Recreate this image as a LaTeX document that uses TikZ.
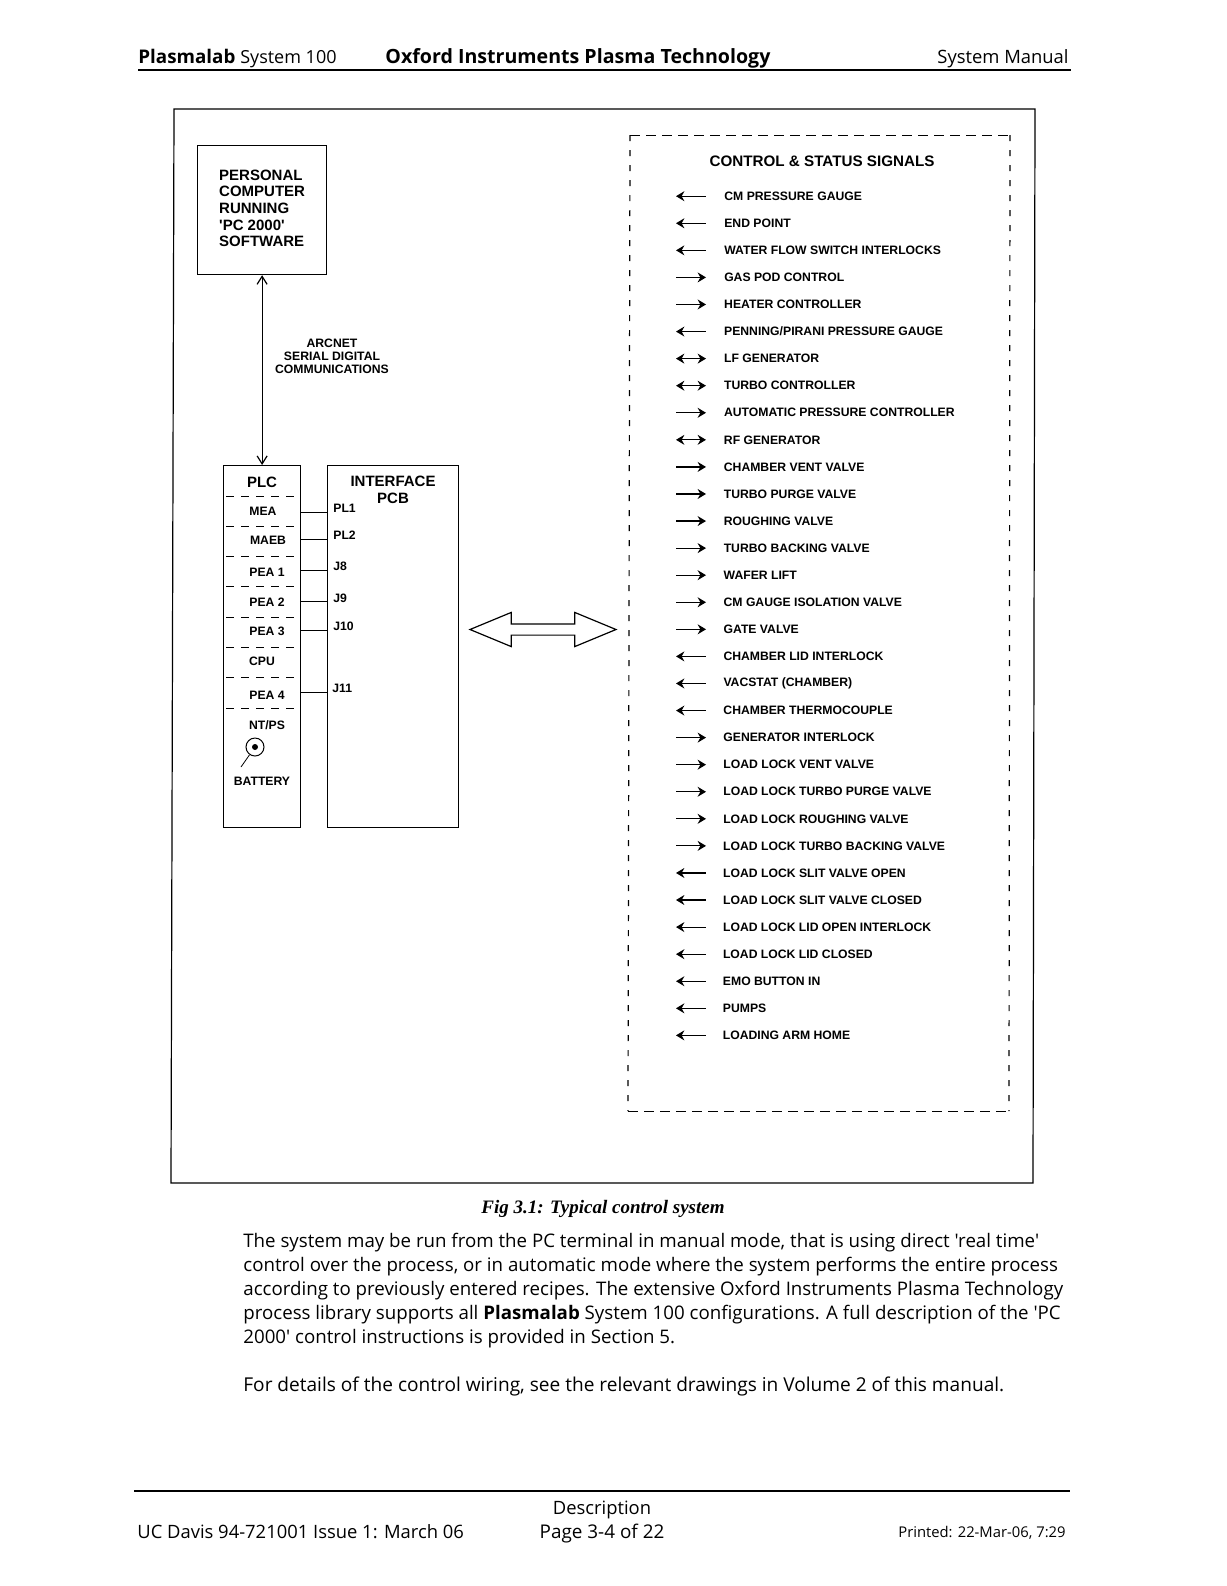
\documentclass[tikz,border=0pt]{standalone}
\usepackage{fontspec}
\usepackage{tikz}
\usetikzlibrary{calc, arrows.meta, shapes.arrows}
\setmainfont{Liberation Sans}
\newfontfamily\manualfont{Open Sans}
\newfontfamily\captionfont{Liberation Serif}
\tikzset{
    boxed/.style={draw, line width=0.6pt, inner sep=0pt, anchor=north west},
    titletext/.style={font=\fontsize{7.5}{8.35}\selectfont\bfseries, inner sep=0pt, align=center},
    smalltext/.style={font=\fontsize{6.1}{6.6}\selectfont\bfseries, inner sep=0pt, align=center},
    pagetext/.style={font=\manualfont\fontsize{9.2}{12}\selectfont, inner sep=0pt, anchor=base west},
    plcdash/.style={line width=0.5pt, dash pattern=on 4pt off 3.5pt},
    link/.style={line width=0.5pt},
    sigtip/.tip={Stealth[length=4.2pt, width=5pt, inset=1.4pt]},
    sigin/.style={line width=0.6pt, sigtip-},
    sigout/.style={line width=0.6pt, -sigtip},
    sigboth/.style={line width=0.6pt, sigtip-sigtip},
}
\begin{document}
\begin{tikzpicture}[x=0.5pt, y=-0.5pt]
    \useasboundingbox (0,0) rectangle (1227,1586);

    % Page header
    \node[pagetext] (headleft) at (138,63) {\fontsize{9.4}{12}\selectfont\textbf{Plasmalab} \fontsize{9}{12}\selectfont System 100};
    \node[pagetext, font=\manualfont\fontsize{9.8}{12}\selectfont\bfseries] (headmid) at (385,63) {Oxford Instruments Plasma Technology};
    \node[pagetext, anchor=base east] (headright) at (1069,63) {System Manual};
    \coordinate (headruleA) at (138,70);
    \coordinate (headruleB) at (1071,70);
    \draw[line width=1.4pt] (headruleA) -- (headruleB);

    % Figure frame
    \draw[line width=0.6pt] (174,109) -- (1035,109) -- (1033,1183) -- (171,1183) -- cycle;

    % PC and link to PLC
    \node[boxed, minimum size=64.5pt, titletext] (pc) at (197,145)
        {\begin{tabular}{@{}l@{}}PERSONAL\\COMPUTER\\RUNNING\\\textquotesingle PC 2000\textquotesingle\\SOFTWARE\end{tabular}};
    \node[boxed, minimum width=38.5pt, minimum height=181pt] (plc) at (223,465) {};
    \node[boxed, minimum width=65.5pt, minimum height=181pt] (iface) at (327,465) {};
    \draw[line width=0.6pt, {Straight Barb[length=4pt, width=5pt]}-{Straight Barb[length=4pt, width=5pt]}] (pc) -- (plc);
    \node[smalltext] (arcnet) at (332,356) {ARCNET\\SERIAL DIGITAL\\COMMUNICATIONS};

    % PLC slots
    \node[titletext] (plctitle) at (262,482) {PLC};
    \foreach \y in {496, 526, 556, 586, 617, 647, 677, 708} {
        \draw[plcdash] (226,\y) -- (297,\y);
    }
    \foreach \nm/\x/\y in {MEA/263/511, MAEB/268/540, PEA 1/267/572, PEA 2/267/602, PEA 3/267/631, CPU/262/661, PEA 4/267/695, NT\slash PS/267/725, BATTERY/262/781} {
        \node[smalltext] at (\x,\y) {\nm};
    }

    % Battery symbol
    \node[draw, circle, line width=0.5pt, minimum size=9pt, inner sep=0pt] (batt) at (255,747) {};
    \node[circle, fill, minimum size=3pt, inner sep=0pt] (battdot) at (255,747) {};
    \coordinate (battend) at (241,767);
    \draw[line width=0.4pt] (batt) -- (battend);

    % Interface board and its connectors
    \node[titletext] (ifacetitle) at (393,490) {INTERFACE\\PCB};
    \foreach \y/\lab/\ly/\lx in {512/PL1/508/333, 539/PL2/535/333, 570/J8/566/333, 601/J9/598/333, 630/J10/626/333, 692/J11/688/332} {
        \coordinate (plcport\lab) at (plc.east |- 0,\y);
        \coordinate (ifaceport\lab) at (iface.west |- 0,\y);
        \draw[link] (plcport\lab) -- (ifaceport\lab);
        \node[smalltext, anchor=west] (lab\lab) at (\lx,\ly) {\lab};
    }

    % Wide double arrow
    \node[draw, double arrow, line width=0.6pt, inner xsep=0pt, inner ysep=2.5pt, minimum width=16.5pt, minimum height=73pt,
        double arrow head extend=5.75pt, double arrow tip angle=45] (bus) at (543,629.5) {};

    % Signal panel
    \draw[line width=0.5pt, dash pattern=on 5pt off 3pt] (630,135) -- (1010,135);
    \draw[line width=0.5pt, dash pattern=on 5pt off 3pt] (628,1111) -- (1009,1111);
    \draw[line width=0.6pt, dash pattern=on 3pt off 4.5pt] (630,135) -- (628,1111);
    \draw[line width=0.6pt, dash pattern=on 3pt off 4.5pt] (1010,135) -- (1009,1111);
    \node[titletext, font=\fontsize{7.6}{8.35}\selectfont\bfseries] (sigtitle) at (822,161) {CONTROL \& STATUS SIGNALS};
    \foreach \tip/\txt [count=\i from 0] in {
        sigin/CM PRESSURE GAUGE, sigin/END POINT, sigin/WATER FLOW SWITCH INTERLOCKS,
        sigout/GAS POD CONTROL, sigout/HEATER CONTROLLER, sigin/PENNING\slash PIRANI PRESSURE GAUGE,
        sigboth/LF GENERATOR, sigboth/TURBO CONTROLLER, sigout/AUTOMATIC PRESSURE CONTROLLER,
        sigboth/RF GENERATOR, sigout/CHAMBER VENT VALVE, sigout/TURBO PURGE VALVE,
        sigout/ROUGHING VALVE, sigout/TURBO BACKING VALVE, sigout/WAFER LIFT,
        sigout/CM GAUGE ISOLATION VALVE, sigout/GATE VALVE, sigin/CHAMBER LID INTERLOCK,
        sigin/VACSTAT (CHAMBER), sigin/CHAMBER THERMOCOUPLE, sigout/GENERATOR INTERLOCK,
        sigout/LOAD LOCK VENT VALVE, sigout/LOAD LOCK TURBO PURGE VALVE, sigout/LOAD LOCK ROUGHING VALVE,
        sigout/LOAD LOCK TURBO BACKING VALVE, sigin/LOAD LOCK SLIT VALVE OPEN, sigin/LOAD LOCK SLIT VALVE CLOSED,
        sigin/LOAD LOCK LID OPEN INTERLOCK, sigin/LOAD LOCK LID CLOSED, sigin/EMO BUTTON IN,
        sigin/PUMPS, sigin/LOADING ARM HOME} {
        \pgfmathsetmacro\sigy{196.2+27.07*\i}
        \pgfmathsetmacro\sigx{724-0.05*\i}
        \node[smalltext, anchor=west] (sig\i) at (\sigx,\sigy) {\txt};
        \coordinate (sigtail\i) at (676,\sigy);
        \coordinate (sighead\i) at (706,\sigy);
        \draw[\tip] (sigtail\i) -- (sighead\i);
    }

    % Caption and body text
    \node[font=\captionfont\fontsize{9.5}{11}\selectfont\bfseries\itshape, inner sep=0pt] (figcaption) at (603,1209) {Fig 3.1: Typical control system};
    \node[pagetext, font=\manualfont\fontsize{9.35}{12}\selectfont, anchor=north west, align=left] (bodytext) at (243,1233) {The system may be run from the PC terminal in manual mode, that is using direct 'real time'\\
        control over the process, or in automatic mode where the system performs the entire process\\
        according to previously entered recipes. The extensive Oxford Instruments Plasma Technology\\
        process library supports all \textbf{Plasmalab} System 100 configurations. A full description of the 'PC\\
        2000' control instructions is provided in Section 5.};
    \node[pagetext, font=\manualfont\fontsize{9.54}{12}\selectfont, anchor=north west] (bodytail) at (243,1376) {For details of the control wiring, see the relevant drawings in Volume 2 of this manual.};

    % Page footer
    \coordinate (footruleA) at (134,1491);
    \coordinate (footruleB) at (1070,1491);
    \draw[line width=1.2pt] (footruleA) -- (footruleB);
    \node[pagetext, anchor=base] (footdesc) at (602,1514) {Description};
    \node[pagetext, anchor=base, font=\manualfont\fontsize{9.45}{12}\selectfont] (footpage) at (602,1538) {Page 3-4 of 22};
    \node[pagetext] (footissue) at (137,1538) {UC Davis 94-721001 Issue 1: March 06};
    \node[pagetext, anchor=base east, font=\manualfont\fontsize{7.4}{9}\selectfont] (footprint) at (1066,1537) {Printed: 22-Mar-06, 7:29};
\end{tikzpicture}
\end{document}
